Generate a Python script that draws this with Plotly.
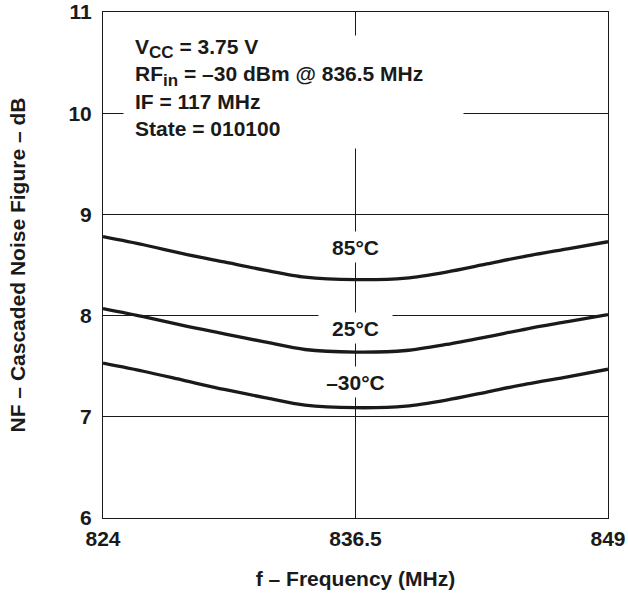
import plotly.graph_objects as go

freq = [824, 826, 828, 830, 832, 834, 836.5, 839, 841, 843, 845, 847, 849]
nf_85 = [8.78, 8.70, 8.61, 8.53, 8.45, 8.38, 8.355, 8.37, 8.43, 8.51, 8.59, 8.66, 8.73]
nf_25 = [8.07, 7.99, 7.90, 7.82, 7.74, 7.665, 7.64, 7.655, 7.715, 7.79, 7.87, 7.94, 8.01]
nf_m30 = [7.53, 7.45, 7.36, 7.27, 7.19, 7.115, 7.09, 7.105, 7.165, 7.245, 7.325, 7.395, 7.47]

series = [("85°C", nf_85, 8.68), ("25°C", nf_25, 7.88), ("–30°C", nf_m30, 7.34)]

x_ticks = [824, 836.5, 849]
x_ticktext = ["824", "836.5", "849"]
y_ticks = [6, 7, 8, 9, 10, 11]

FONT = "Liberation Sans, Arial, sans-serif"
FS = 21

fig = go.Figure()
for name, vals, _ in series:
    fig.add_trace(go.Scatter(x=freq, y=vals, mode="lines", name=name,
                             line=dict(color="#1a1a1a", width=3.3, shape="spline", smoothing=0.8),
                             showlegend=False, hoverinfo="skip"))

annotations = []
for name, vals, ylab in series:
    annotations.append(dict(x=836.5, y=ylab, xref="x", yref="y", text=f"<b>{name}</b>",
                            showarrow=False, bgcolor="white", borderpad=0, width=73, height=30,
                            font=dict(family=FONT, size=21, color="#1a1a1a")))

# white mask behind conditions text
annotations.append(dict(x=824.99, y=10.773, xref="x", yref="y", xanchor="left", yanchor="top",
                        text=" ", showarrow=False, bgcolor="white", borderpad=0,
                        width=339, height=112))
SUB = "<sub><span style='font-size:17px'>{}</span></sub>"
cond = ("<b>V" + SUB.format("CC") + " = 3.75 V<br>RF" + SUB.format("in") +
        " = –30 dBm @ 836.5 MHz<br>IF = 117 MHz<br>State = 010100</b>")
annotations.append(dict(x=825.48, y=10.79, xref="x", yref="y", xanchor="left", yanchor="top",
                        text=cond, showarrow=False, align="left",
                        font=dict(family=FONT, size=21, color="#1a1a1a")))

fig.update_layout(
    width=628, height=594,
    margin=dict(l=103, r=20, t=12, b=76, autoexpand=False),
    paper_bgcolor="white", plot_bgcolor="white",
    font=dict(family=FONT, size=FS, color="#1a1a1a"),
    annotations=annotations,
    xaxis=dict(range=[824, 849], tickvals=x_ticks, ticktext=x_ticktext, automargin=False,
               tickfont=dict(family=FONT, size=FS, weight="bold"),
               showgrid=True, gridcolor="#1a1a1a", gridwidth=1,
               showline=True, linecolor="#1a1a1a", linewidth=1, mirror=True,
               zeroline=False, ticks="", ticklabelstandoff=2,
               title=dict(text="<b>f – Frequency (MHz)</b>", font=dict(family=FONT, size=FS),
                          standoff=22)),
    yaxis=dict(range=[6, 11], tickvals=y_ticks, automargin=False,
               tickfont=dict(family=FONT, size=FS, weight="bold"),
               showgrid=True, gridcolor="#1a1a1a", gridwidth=1,
               showline=True, linecolor="#1a1a1a", linewidth=1, mirror=True,
               zeroline=False, ticks="", ticklabelstandoff=6,
               title=dict(text="<b>NF – Cascaded Noise Figure – dB</b>",
                          font=dict(family=FONT, size=FS), standoff=37)),
)

fig.write_html("out.html", config={"displayModeBar": False},
               post_script="document.body.style.margin='0';document.body.style.overflow='hidden';")
